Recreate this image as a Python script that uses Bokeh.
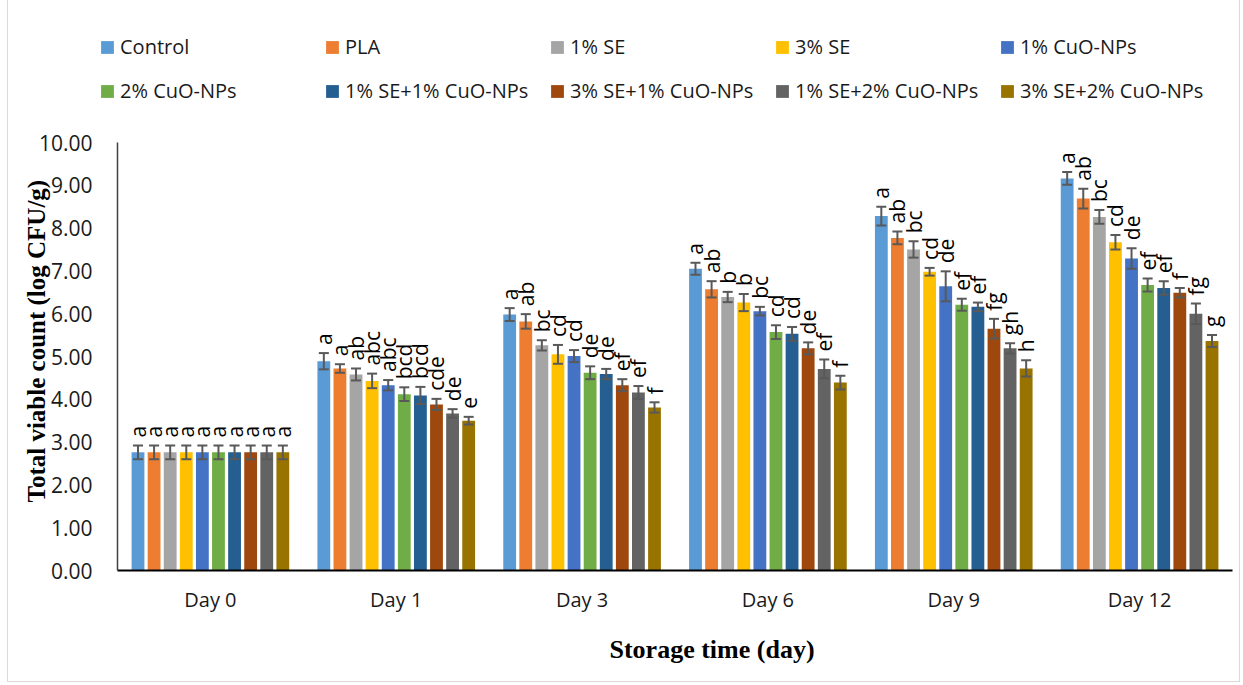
import numpy as np
from bokeh.plotting import figure
from bokeh.layouts import column
from bokeh.models import (ColumnDataSource, FactorRange, Range1d, Legend, LegendItem,
                          FixedTicker, NumeralTickFormatter, Title)
from bokeh.transform import dodge
from bokeh.core.properties import value
from bokeh.embed import file_html
from bokeh.resources import INLINE

days = ["Day 0", "Day 1", "Day 3", "Day 6", "Day 9", "Day 12"]
treatments = ["Control", "PLA", "1% SE", "3% SE", "1% CuO-NPs",
              "2% CuO-NPs", "1% SE+1% CuO-NPs", "3% SE+1% CuO-NPs",
              "1% SE+2% CuO-NPs", "3% SE+2% CuO-NPs"]
colors = ["#5B9BD5", "#ED7D31", "#A5A5A5", "#FFC000", "#4472C4",
          "#70AD47", "#255E91", "#9E480E", "#636363", "#997300"]

# mean values (log CFU/g) per treatment, one entry per day
control      = [2.76, 4.89, 5.98, 7.05, 8.28, 9.16]
pla          = [2.76, 4.72, 5.82, 6.57, 7.77, 8.69]
se1          = [2.76, 4.58, 5.26, 6.39, 7.50, 8.26]
se3          = [2.76, 4.43, 5.05, 6.26, 6.98, 7.67]
cuo1         = [2.76, 4.33, 5.01, 6.06, 6.64, 7.29]
cuo2         = [2.76, 4.12, 4.62, 5.57, 6.21, 6.67]
se1_cuo1     = [2.76, 4.09, 4.59, 5.53, 6.16, 6.60]
se3_cuo1     = [2.76, 3.88, 4.33, 5.19, 5.65, 6.49]
se1_cuo2     = [2.76, 3.67, 4.16, 4.71, 5.19, 6.00]
se3_cuo2     = [2.76, 3.50, 3.81, 4.39, 4.72, 5.36]

# standard deviations
control_sd   = [0.16, 0.19, 0.15, 0.14, 0.22, 0.15]
pla_sd       = [0.16, 0.10, 0.17, 0.19, 0.15, 0.23]
se1_sd       = [0.16, 0.14, 0.12, 0.12, 0.19, 0.16]
se3_sd       = [0.16, 0.17, 0.22, 0.20, 0.09, 0.17]
cuo1_sd      = [0.16, 0.12, 0.14, 0.10, 0.35, 0.24]
cuo2_sd      = [0.16, 0.16, 0.15, 0.16, 0.14, 0.15]
se1_cuo1_sd  = [0.16, 0.20, 0.12, 0.16, 0.10, 0.16]
se3_cuo1_sd  = [0.16, 0.13, 0.14, 0.14, 0.23, 0.11]
se1_cuo2_sd  = [0.16, 0.10, 0.15, 0.22, 0.12, 0.24]
se3_cuo2_sd  = [0.16, 0.09, 0.12, 0.16, 0.19, 0.14]

# significance letters
control_lt   = ["a", "a", "a", "a", "a", "a"]
pla_lt       = ["a", "a", "ab", "ab", "ab", "ab"]
se1_lt       = ["a", "ab", "bc", "b", "bc", "bc"]
se3_lt       = ["a", "abc", "cd", "b", "cd", "cd"]
cuo1_lt      = ["a", "abc", "cd", "bc", "de", "de"]
cuo2_lt      = ["a", "bcd", "de", "cd", "ef", "ef"]
se1_cuo1_lt  = ["a", "bcd", "de", "cd", "ef", "ef"]
se3_cuo1_lt  = ["a", "cde", "ef", "de", "fg", "f"]
se1_cuo2_lt  = ["a", "de", "ef", "ef", "gh", "fg"]
se3_cuo2_lt  = ["a", "e", "f", "f", "h", "g"]

means = [control, pla, se1, se3, cuo1, cuo2, se1_cuo1, se3_cuo1, se1_cuo2, se3_cuo2]
sds = [control_sd, pla_sd, se1_sd, se3_sd, cuo1_sd, cuo2_sd, se1_cuo1_sd,
       se3_cuo1_sd, se1_cuo2_sd, se3_cuo2_sd]
letters = [control_lt, pla_lt, se1_lt, se3_lt, cuo1_lt, cuo2_lt, se1_cuo1_lt,
           se3_cuo1_lt, se1_cuo2_lt, se3_cuo2_lt]

W = 1231
LH = 120
MH = 561

sources = []
for j in range(len(treatments)):
    m = np.array(means[j])
    s = np.array(sds[j])
    sources.append(ColumnDataSource(dict(day=days, top=m, upper=m + s, lower=m - s,
                                         lt=letters[j])))

step = 0.0866
bar_w = 0.069
cap = 0.027

# ---------------- legend strip (hidden proxy bars share the data) -------------
lf = figure(width=W, height=LH, output_backend="svg", toolbar_location=None,
            x_range=FactorRange(*days, range_padding=0, factor_padding=0),
            y_range=Range1d(-2, -1),
            min_border_left=0, min_border_right=0, min_border_top=0,
            min_border_bottom=0)
lf.frame_align = False
lf.axis.visible = False
lf.grid.visible = False
lf.outline_line_color = None
lf.border_fill_color = "white"
lf.background_fill_color = "white"
leg_items = []
for j, (name, c) in enumerate(zip(treatments, colors)):
    rr = lf.vbar(x=dodge("day", (j - 4.5) * step, range=lf.x_range), top="top",
                 width=bar_w, source=sources[j], fill_color=c, line_color=None)
    rr.visible = False
    leg_items.append(LegendItem(label=name, renderers=[rr]))
legend = Legend(items=leg_items, ncols=5, location=(91, 16), orientation="horizontal",
                glyph_width=16, glyph_height=16, label_standoff=5,
                label_width=187, label_height=20, spacing=17,
                padding=0, margin=0, border_line_color=None,
                background_fill_alpha=0, click_policy="none",
                label_text_font="Open Sans", label_text_font_size="20px",
                label_text_color="#1a1a1a")
lf.add_layout(legend, "center")

# ---------------- main chart ----------------
p = figure(width=W, height=MH, output_backend="svg", toolbar_location=None,
           x_range=FactorRange(*days, range_padding=0, factor_padding=0),
           y_range=Range1d(0, 10),
           min_border_left=109, min_border_right=7, min_border_top=22,
           min_border_bottom=109)
p.frame_align = False
p.outline_line_color = None
p.xgrid.visible = False
p.ygrid.visible = False
p.background_fill_color = "white"
p.border_fill_color = "white"

for j, name in enumerate(treatments):
    src = sources[j]
    off = (j - 4.5) * step
    p.vbar(x=dodge("day", off, range=p.x_range), top="top", width=bar_w,
           source=src, fill_color=colors[j], line_color=None)
    p.segment(x0=dodge("day", off, range=p.x_range), y0="lower",
              x1=dodge("day", off, range=p.x_range), y1="upper",
              source=src, line_color="#595959", line_width=2)
    for key in ("upper", "lower"):
        p.segment(x0=dodge("day", off - cap, range=p.x_range), y0=key,
                  x1=dodge("day", off + cap, range=p.x_range), y1=key,
                  source=src, line_color="#595959", line_width=2)
    p.text(x=dodge("day", off, range=p.x_range), y="upper", text="lt", source=src,
           angle=np.pi / 2, text_align="left", text_baseline="middle",
           y_offset=-8, text_font=value("Open Sans"), text_font_size="21px",
           text_color="black")

p.yaxis.ticker = FixedTicker(ticks=list(range(0, 11)))
p.yaxis.formatter = NumeralTickFormatter(format="0.00")
p.yaxis.major_tick_line_color = None
p.yaxis.minor_tick_line_color = None
p.yaxis.axis_line_color = "#404040"
p.yaxis.axis_line_width = 1.5
p.yaxis.major_label_standoff = 19
p.yaxis.major_label_text_font = "Open Sans"
p.yaxis.major_label_text_font_size = "21px"
p.yaxis.major_label_text_color = "#1a1a1a"

p.xaxis.major_tick_line_color = None
p.xaxis.minor_tick_line_color = None
p.xaxis.axis_line_color = "black"
p.xaxis.axis_line_width = 2
p.xaxis.major_label_standoff = 9
p.xaxis.major_label_text_font = "Open Sans"
p.xaxis.major_label_text_font_size = "20px"
p.xaxis.major_label_text_color = "#1a1a1a"

p.add_layout(Title(text="Storage time (day)", align="left", offset=492,
                   text_font="Liberation Serif", text_font_style="bold",
                   text_font_size="26px", text_color="black", standoff=35), "below")
p.add_layout(Title(text="Total viable count (log CFU/g)", align="left", offset=68,
                   text_font="Liberation Serif", text_font_style="bold",
                   text_font_size="25px", text_color="black", standoff=-29), "left")

layout = column(lf, p, spacing=0,
                styles={"border-left": "1px solid #d9d9d9",
                        "border-right": "1px solid #d9d9d9",
                        "border-bottom": "1px solid #d9d9d9",
                        "margin-left": "7px"})

open("out.html", "w").write(file_html(layout, INLINE))
